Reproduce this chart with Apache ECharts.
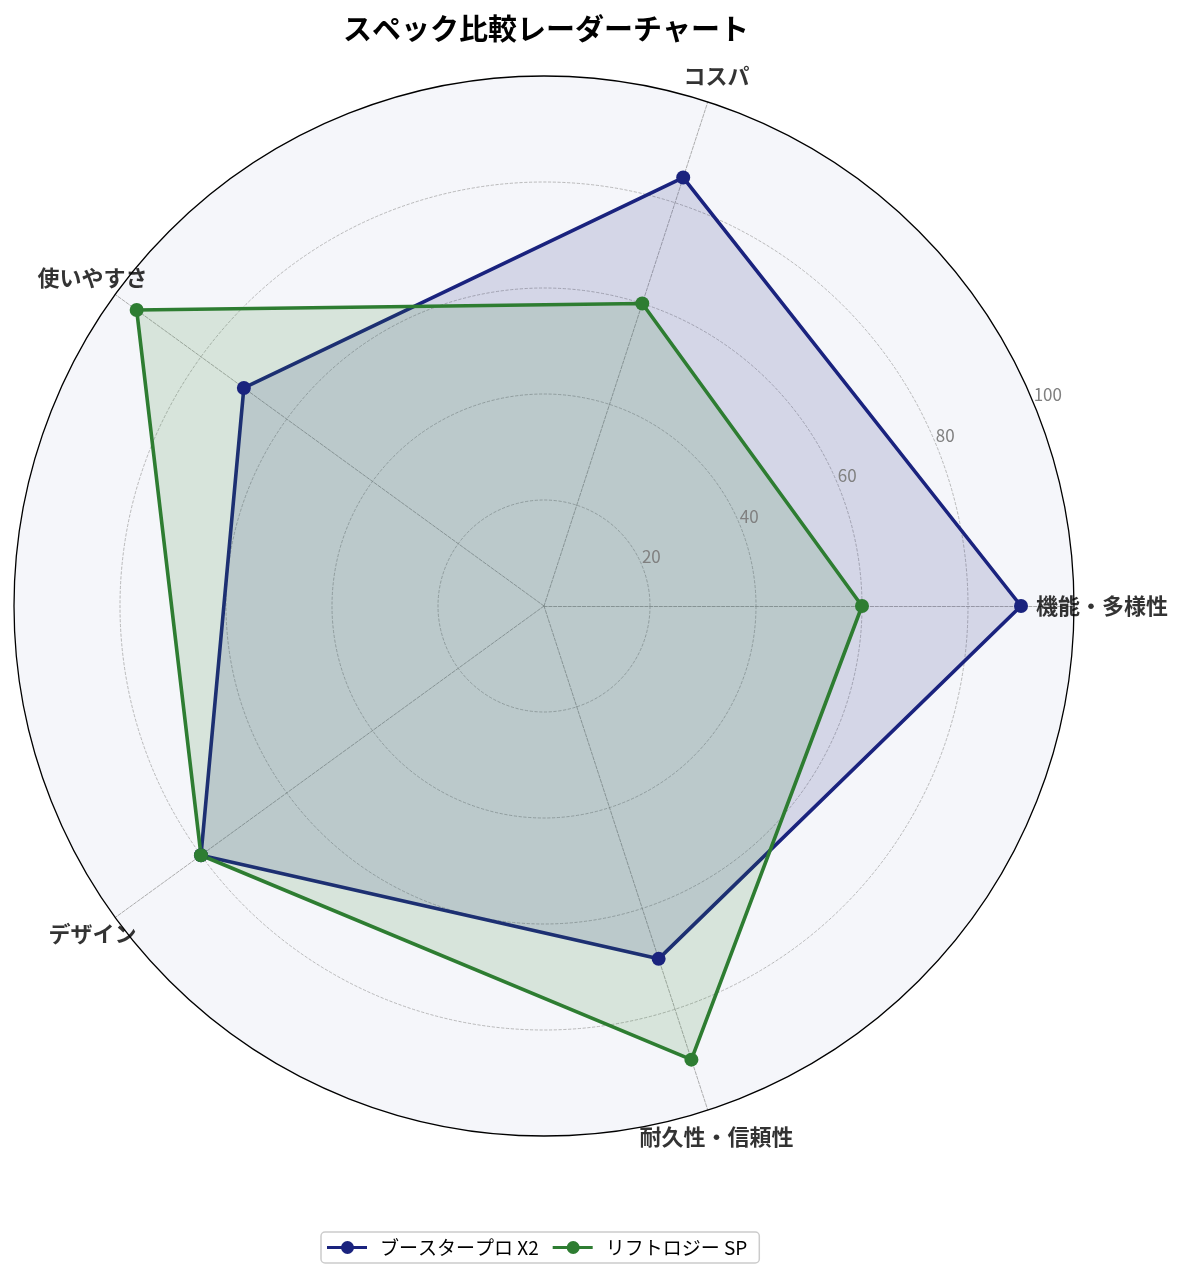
<!DOCTYPE html>
<html lang="ja">
<head>
<meta charset="UTF-8">
<title>スペック比較レーダーチャート</title>
<style>
html,body{margin:0;padding:0;width:100%;height:100%;overflow:hidden;background:#fff;}
#main{width:1185px;height:1279px;}
</style>
</head>
<body>
<div id="main"></div>
<script src="https://cdn.jsdelivr.net/npm/echarts@6/dist/echarts.min.js"></script>
<script>
// data
var categories = ['機能・多様性', 'コスパ', '使いやすさ', 'デザイン', '耐久性・信頼性'];
var seriesNames = ['ブースタープロ X2', 'リフトロジー SP'];
var boosterValues = [90, 85, 70, 80, 70];
var liftValues = [60, 60, 95, 80, 90];
var radialTicks = [20, 40, 60, 80, 100];
var seriesColors = ['#1a237e', '#2e7d32'];

var FONT = '"Noto Sans CJK JP", "Noto Sans", sans-serif';
var CENTER = [544, 606];
var RADIUS = 530;
var LABEL_AT = 105.3;   // category names sit just outside the 100 ring
var RLABEL_ANGLE = 22.5;

var chart = echarts.init(document.getElementById('main'));

// category name points in the polar system (its zero sits at RLABEL_ANGLE)
var namePoints = categories.map(function (c, i) {
    var a = (i * 360 / categories.length - RLABEL_ANGLE + 360) % 360;
    return [LABEL_AT, a];
});

// line + dot legend marker, both drawn clockwise so they union
var lineIcon = 'path://M0,9h40v3.2h-40z M27,10.6a6.5,6.5 0 1,1 -13,0a6.5,6.5 0 1,1 13,0z';

function radarItem(i, values) {
    return {
        name: seriesNames[i],
        value: values,
        itemStyle: { color: seriesColors[i] },
        lineStyle: { color: seriesColors[i], width: 3.6 },
        areaStyle: { color: seriesColors[i], opacity: 0.15 }
    };
}

chart.setOption({
    backgroundColor: '#fff',
    textStyle: { fontFamily: FONT },
    title: {
        text: 'スペック比較レーダーチャート',
        left: 541,
        textAlign: 'center',
        top: 9,
        textStyle: { fontSize: 29, fontWeight: 'bold', color: '#000', fontFamily: FONT }
    },
    legend: {
        data: seriesNames.map(function (n) { return { name: n, icon: lineIcon }; }),
        bottom: 16,
        left: 321,
        itemWidth: 40,
        itemHeight: 13,
        itemGap: 14,
        padding: [6, 12, 6, 6],
        borderColor: '#ccc',
        borderWidth: 1.5,
        borderRadius: 4,
        textStyle: { fontSize: 19, color: '#000', fontFamily: FONT, padding: [0, 0, 0, 8] }
    },
    radar: {
        center: CENTER,
        radius: RADIUS,
        startAngle: 0,
        shape: 'circle',
        splitNumber: 5,
        indicator: categories.map(function (c) { return { name: c, min: 0, max: 100 }; }),
        axisName: { show: false },
        axisLine: { lineStyle: { color: '#999', width: 0.8, type: 'dashed' } },
        splitLine: {
            lineStyle: {
                color: ['#aaa', '#aaa', '#aaa', '#aaa', '#aaa', 'rgba(0,0,0,0)'],
                width: 0.8,
                type: 'dashed'
            }
        },
        splitArea: { areaStyle: { color: ['#f5f6fa'] } }
    },
    polar: { center: CENTER, radius: RADIUS },
    angleAxis: {
        type: 'value',
        min: 0,
        max: 360,
        startAngle: RLABEL_ANGLE,
        clockwise: false,
        z: 5,
        axisLine: { show: true, lineStyle: { color: '#000', width: 1.3 } },
        axisTick: { show: false },
        axisLabel: { show: false },
        splitLine: { show: false }
    },
    radiusAxis: {
        type: 'value',
        min: 0,
        max: 100,
        interval: 20,
        z: 5,
        axisLine: { show: false },
        axisTick: { show: false },
        splitLine: { show: false },
        axisLabel: {
            color: '#808080',
            fontSize: 17,
            margin: 0,
            align: 'left',
            verticalAlign: 'bottom',
            formatter: function (v) { return radialTicks.indexOf(v) >= 0 ? String(v) : ''; }
        }
    },
    series: [
        {
            type: 'radar',
            z: 3,
            symbol: 'circle',
            symbolSize: 14,
            data: [radarItem(0, boosterValues), radarItem(1, liftValues)]
        },
        {
            type: 'scatter',
            name: 'labels',
            coordinateSystem: 'polar',
            clip: false,
            silent: true,
            symbolSize: 1,
            itemStyle: { color: 'rgba(0,0,0,0)' },
            z: 6,
            label: {
                show: true,
                position: 'inside',
                fontSize: 22,
                fontWeight: 'bold',
                color: '#000',
                fontFamily: FONT,
                formatter: function (p) { return categories[p.dataIndex]; }
            },
            data: namePoints
        }
    ]
});
</script>
</body>
</html>
